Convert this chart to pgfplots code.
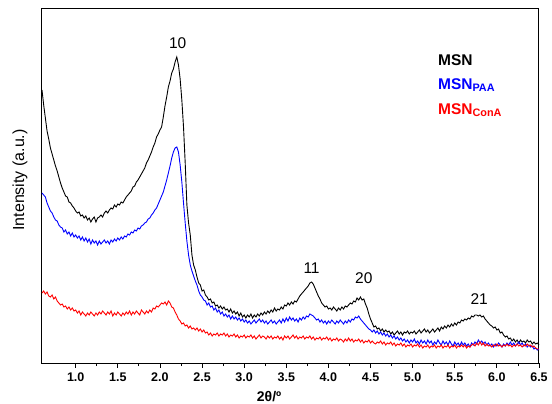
\documentclass[border=0pt]{standalone}
\usepackage{fontspec}
\setmainfont{Liberation Sans}
\usepackage{pgfplots}
\pgfplotsset{compat=1.18}

\pgfplotstableread{
x y
0.60 273
0.62 258
0.64 245
0.66 232
0.68 224
0.70 215
0.72 209
0.74 203
0.76 197
0.78 192
0.80 186
0.82 180
0.84 175
0.86 171
0.88 167
0.90 166
0.92 161
0.94 160
0.96 157
0.98 155
1.00 152
1.02 150
1.04 151
1.06 147
1.08 148
1.10 145
1.12 147
1.14 143
1.16 145
1.18 141
1.20 144
1.22 146
1.24 141
1.26 145
1.28 146
1.30 148
1.32 146
1.34 150
1.36 152
1.38 150
1.40 153
1.42 155
1.44 154
1.46 158
1.48 156
1.50 159
1.52 158
1.54 161
1.56 160
1.58 163
1.60 166
1.62 168
1.64 170
1.66 172
1.68 176
1.70 177
1.72 181
1.74 183
1.76 186
1.78 189
1.80 192
1.82 195
1.84 200
1.86 203
1.88 207
1.90 211
1.92 216
1.94 220
1.96 226
1.98 229
2.00 233
2.02 236
2.04 246
2.06 257
2.08 266
2.10 276
2.12 282
2.14 290
2.16 294
2.18 301
2.20 306
2.22 298
2.24 284
2.26 263
2.28 236
2.30 200
2.32 158
2.34 140
2.36 128
2.38 108
2.40 98
2.42 93
2.44 86
2.46 80
2.48 78
2.50 72
2.52 73
2.54 68
2.56 66
2.58 63
2.60 64
2.62 60
2.64 61
2.66 57
2.68 58
2.70 55
2.72 57
2.74 54
2.76 56
2.78 53
2.80 54
2.82 51
2.84 54
2.86 50
2.88 52
2.90 49
2.92 51
2.94 47
2.96 50
2.98 46
3.00 48
3.02 45
3.04 48
3.06 46
3.08 49
3.10 45
3.12 48
3.14 46
3.16 49
3.18 47
3.20 50
3.22 48
3.24 51
3.26 49
3.28 52
3.30 50
3.32 53
3.34 51
3.36 55
3.38 52
3.40 54
3.42 53
3.44 56
3.46 54
3.48 58
3.50 57
3.52 60
3.54 58
3.56 61
3.58 59
3.60 62
3.62 61
3.64 64
3.66 67
3.68 69
3.70 71
3.72 73
3.74 75
3.76 77
3.78 80
3.80 81
3.82 79
3.84 75
3.86 71
3.88 67
3.90 64
3.92 60
3.94 58
3.96 56
3.98 57
4.00 54
4.02 55
4.04 53
4.06 56
4.08 54
4.10 52
4.12 55
4.14 53
4.16 56
4.18 54
4.20 57
4.22 56
4.24 58
4.26 60
4.28 59
4.30 62
4.32 61
4.34 65
4.36 63
4.38 66
4.40 63
4.42 64
4.44 59
4.46 55
4.48 49
4.50 44
4.52 40
4.54 36
4.56 37
4.58 34
4.60 35
4.62 32
4.64 34
4.66 31
4.68 33
4.70 31
4.72 32
4.74 29
4.76 31
4.78 28
4.80 30
4.82 32
4.84 29
4.86 31
4.88 28
4.90 31
4.92 30
4.94 32
4.96 29
4.98 31
5.00 30
5.02 32
5.04 29
5.06 31
5.08 33
5.10 30
5.12 32
5.14 34
5.16 31
5.18 33
5.20 30
5.22 32
5.24 34
5.26 31
5.28 33
5.30 35
5.32 32
5.34 36
5.36 34
5.38 37
5.40 35
5.42 38
5.44 36
5.46 39
5.48 37
5.50 40
5.52 38
5.54 41
5.56 40
5.58 43
5.60 42
5.62 44
5.64 43
5.66 45
5.68 44
5.70 47
5.72 46
5.74 48
5.76 48
5.78 47
5.80 48
5.82 46
5.84 47
5.86 44
5.88 42
5.90 40
5.92 38
5.94 37
5.96 35
5.98 36
6.00 33
6.02 34
6.04 30
6.06 31
6.08 28
6.10 26
6.12 27
6.14 24
6.16 25
6.18 22
6.20 24
6.22 21
6.24 23
6.26 20
6.28 23
6.30 21
6.32 22
6.34 20
6.36 23
6.38 21
6.40 22
6.42 19
6.44 21
6.46 19
6.48 20
6.50 18
}\msn

\pgfplotstableread{
x y
0.60 170
0.62 168
0.64 166
0.66 160
0.68 156
0.70 152
0.72 150
0.74 146
0.76 143
0.78 142
0.80 138
0.82 136
0.84 135
0.86 131
0.88 133
0.90 129
0.92 131
0.94 127
0.96 130
0.98 126
1.00 128
1.02 125
1.04 127
1.06 123
1.08 126
1.10 122
1.12 125
1.14 121
1.16 124
1.18 119
1.20 123
1.22 120
1.24 122
1.26 118
1.28 122
1.30 119
1.32 121
1.34 123
1.36 120
1.38 122
1.40 119
1.42 123
1.44 121
1.46 124
1.48 122
1.50 125
1.52 123
1.54 126
1.56 124
1.58 127
1.60 126
1.62 129
1.64 128
1.66 131
1.68 130
1.70 133
1.72 132
1.74 135
1.76 134
1.78 137
1.80 138
1.82 140
1.84 141
1.86 144
1.88 145
1.90 148
1.92 150
1.94 153
1.96 155
1.98 159
2.00 163
2.02 167
2.04 171
2.06 177
2.08 183
2.10 190
2.12 197
2.14 205
2.16 211
2.18 215
2.20 216
2.22 211
2.24 198
2.26 181
2.28 160
2.30 140
2.32 122
2.34 108
2.36 98
2.38 92
2.40 87
2.42 82
2.44 78
2.46 72
2.48 68
2.50 66
2.52 63
2.54 62
2.56 58
2.58 60
2.60 56
2.62 57
2.64 53
2.66 55
2.68 51
2.70 53
2.72 49
2.74 51
2.76 47
2.78 49
2.80 46
2.82 48
2.84 44
2.86 47
2.88 44
2.90 46
2.92 43
2.94 45
2.96 42
2.98 44
3.00 41
3.02 43
3.04 40
3.06 42
3.08 39
3.10 41
3.12 43
3.14 40
3.16 42
3.18 44
3.20 41
3.22 43
3.24 40
3.26 42
3.28 39
3.30 41
3.32 43
3.34 40
3.36 42
3.38 39
3.40 41
3.42 43
3.44 40
3.46 44
3.48 41
3.50 45
3.52 42
3.54 46
3.56 43
3.58 45
3.60 42
3.62 44
3.64 41
3.66 45
3.68 43
3.70 46
3.72 44
3.74 47
3.76 46
3.78 49
3.80 48
3.82 47
3.84 45
3.86 43
3.88 44
3.90 41
3.92 43
3.94 40
3.96 42
3.98 39
4.00 42
4.02 40
4.04 43
4.06 41
4.08 39
4.10 42
4.12 40
4.14 43
4.16 41
4.18 39
4.20 42
4.22 40
4.24 43
4.26 41
4.28 44
4.30 43
4.32 46
4.34 45
4.36 47
4.38 44
4.40 42
4.42 40
4.44 38
4.46 36
4.48 34
4.50 33
4.52 31
4.54 33
4.56 30
4.58 32
4.60 29
4.62 31
4.64 28
4.66 30
4.68 27
4.70 29
4.72 26
4.74 28
4.76 25
4.78 27
4.80 24
4.82 26
4.84 23
4.86 25
4.88 22
4.90 24
4.92 21
4.94 23
4.96 20
4.98 23
5.00 21
5.02 24
5.04 20
5.06 22
5.08 19
5.10 23
5.12 20
5.14 22
5.16 19
5.18 23
5.20 20
5.22 22
5.24 18
5.26 21
5.28 19
5.30 23
5.32 20
5.34 18
5.36 22
5.38 19
5.40 21
5.42 18
5.44 22
5.46 19
5.48 17
5.50 21
5.52 18
5.54 20
5.56 17
5.58 21
5.60 18
5.62 20
5.64 17
5.66 19
5.68 16
5.70 20
5.72 18
5.74 21
5.76 19
5.78 23
5.80 20
5.82 22
5.84 19
5.86 21
5.88 18
5.90 20
5.92 17
5.94 19
5.96 16
5.98 19
6.00 17
6.02 20
6.04 18
6.06 16
6.08 19
6.10 17
6.12 20
6.14 18
6.16 21
6.18 18
6.20 20
6.22 17
6.24 19
6.26 21
6.28 18
6.30 20
6.32 17
6.34 19
6.36 16
6.38 18
6.40 16
6.42 17
6.44 14
6.46 15
6.48 13
6.50 14
}\msnpaa

\pgfplotstableread{
x y
0.60 70
0.62 72
0.64 69
0.66 71
0.68 67
0.70 66
0.72 68
0.74 64
0.76 66
0.78 62
0.80 60
0.82 58
0.84 59
0.86 56
0.88 57
0.90 54
0.92 56
0.94 53
0.96 55
0.98 52
1.00 53
1.02 50
1.04 52
1.06 48
1.08 51
1.10 49
1.12 47
1.14 50
1.16 48
1.18 51
1.20 49
1.22 47
1.24 50
1.26 48
1.28 51
1.30 49
1.32 52
1.34 50
1.36 48
1.38 51
1.40 49
1.42 52
1.44 47
1.46 50
1.48 48
1.50 51
1.52 49
1.54 47
1.56 50
1.58 48
1.60 51
1.62 49
1.64 52
1.66 48
1.68 51
1.70 49
1.72 52
1.74 50
1.76 48
1.78 53
1.80 51
1.82 49
1.84 52
1.86 50
1.88 53
1.90 51
1.92 55
1.94 54
1.96 57
1.98 56
2.00 58
2.02 60
2.04 59
2.06 61
2.08 58
2.10 62
2.12 60
2.14 56
2.16 55
2.18 51
2.20 48
2.22 44
2.24 42
2.26 39
2.28 40
2.30 37
2.32 38
2.34 35
2.36 37
2.38 34
2.40 35
2.42 33
2.44 35
2.46 32
2.48 34
2.50 31
2.52 33
2.54 30
2.56 31
2.58 28
2.60 30
2.62 27
2.64 29
2.66 28
2.68 30
2.70 27
2.72 29
2.74 28
2.76 30
2.78 27
2.80 29
2.82 26
2.84 28
2.86 27
2.88 29
2.90 26
2.92 28
2.94 25
2.96 27
2.98 26
3.00 28
3.02 25
3.04 27
3.06 26
3.08 28
3.10 25
3.12 27
3.14 24
3.16 26
3.18 28
3.20 25
3.22 27
3.24 26
3.26 24
3.28 27
3.30 25
3.32 27
3.34 24
3.36 26
3.38 25
3.40 27
3.42 24
3.44 26
3.46 23
3.48 27
3.50 25
3.52 27
3.54 24
3.56 26
3.58 28
3.60 25
3.62 27
3.64 24
3.66 26
3.68 25
3.70 27
3.72 24
3.74 26
3.76 25
3.78 27
3.80 24
3.82 26
3.84 23
3.86 25
3.88 24
3.90 26
3.92 23
3.94 25
3.96 24
3.98 26
4.00 23
4.02 25
4.04 22
4.06 24
4.08 23
4.10 25
4.12 22
4.14 24
4.16 23
4.18 21
4.20 24
4.22 22
4.24 25
4.26 22
4.28 24
4.30 21
4.32 23
4.34 22
4.36 24
4.38 21
4.40 23
4.42 20
4.44 22
4.46 21
4.48 23
4.50 20
4.52 22
4.54 20
4.56 19
4.58 21
4.60 20
4.62 22
4.64 19
4.66 21
4.68 18
4.70 20
4.72 19
4.74 21
4.76 18
4.78 20
4.80 17
4.82 19
4.84 18
4.86 20
4.88 17
4.90 19
4.92 16
4.94 18
4.96 17
4.98 19
5.00 16
5.02 18
5.04 17
5.06 19
5.08 16
5.10 18
5.12 15
5.14 17
5.16 16
5.18 18
5.20 15
5.22 17
5.24 16
5.26 18
5.28 15
5.30 17
5.32 16
5.34 18
5.36 15
5.38 17
5.40 16
5.42 18
5.44 15
5.46 17
5.48 16
5.50 18
5.52 15
5.54 17
5.56 16
5.58 18
5.60 16
5.62 18
5.64 15
5.66 17
5.68 16
5.70 18
5.72 19
5.74 17
5.76 20
5.78 18
5.80 21
5.82 18
5.84 20
5.86 17
5.88 19
5.90 17
5.92 18
5.94 16
5.96 18
5.98 17
6.00 19
6.02 17
6.04 18
6.06 16
6.08 18
6.10 17
6.12 19
6.14 17
6.16 18
6.18 16
6.20 18
6.22 17
6.24 19
6.26 17
6.28 18
6.30 16
6.32 18
6.34 17
6.36 19
6.38 17
6.40 18
6.42 16
6.44 17
6.46 15
6.48 14
6.50 14
}\msncona

\begin{document}
\begin{tikzpicture}
\begin{axis}[
  scale only axis,
  width=497bp, height=354bp,
  xmin=0.6, xmax=6.5,
  ymin=0, ymax=354,
  xtick={1.0,1.5,...,6.5},
  minor x tick num=1,
  ytick=\empty,
  xtick pos=bottom,
  tick align=outside,
  major tick length=4.5bp,
  minor tick length=3bp,
  every tick/.style={black, line width=0.8bp},
  axis line style={black, line width=1bp},
  xticklabel style={font=\fontsize{12.5bp}{14bp}\selectfont\bfseries, yshift=-2bp},
  /pgf/number format/assume math mode=true,
  /pgf/number format/.cd, fixed, fixed zerofill, precision=1,
  /pgfplots/.cd,
  xlabel={2θ/º},
  xlabel style={font=\fontsize{14bp}{16bp}\selectfont\bfseries,
    at={(0.457,0)}, anchor=center, yshift=-34bp},
  ylabel={Intensity (a.u.)},
  ylabel style={font=\fontsize{16bp}{18bp}\selectfont,
    at={(0,0.517)}, anchor=center, yshift=22bp},
  clip=false,
  every axis plot/.append style={line width=0.9bp},
]
\addplot[black] table {\msn};
\addplot[blue] table {\msnpaa};
\addplot[red] table {\msncona};

\node[font=\fontsize{15.5bp}{17bp}\selectfont] at (axis cs:2.21,320) {10};
\node[font=\fontsize{15.5bp}{17bp}\selectfont] at (axis cs:3.80,95) {11};
\node[font=\fontsize{15.5bp}{17bp}\selectfont] at (axis cs:4.42,85) {20};
\node[font=\fontsize{15.5bp}{17bp}\selectfont] at (axis cs:5.79,64) {21};

\node[anchor=west, inner sep=0pt, font=\fontsize{15.5bp}{17bp}\selectfont\bfseries, text=black]
  at (axis cs:5.30,303) {MSN};
\node[anchor=west, inner sep=0pt, font=\fontsize{15.5bp}{17bp}\selectfont\bfseries, text=blue]
  at (axis cs:5.30,278) {MSN\textsubscript{PAA}};
\node[anchor=west, inner sep=0pt, font=\fontsize{15.5bp}{17bp}\selectfont\bfseries, text=red]
  at (axis cs:5.30,253) {MSN\textsubscript{ConA}};
\end{axis}
\pgfresetboundingbox
\path[use as bounding box] ([shift={(-42bp,-41bp)}]current axis.south west)
  rectangle ([shift={(510bp,363bp)}]current axis.south west);
\end{tikzpicture}
\end{document}
